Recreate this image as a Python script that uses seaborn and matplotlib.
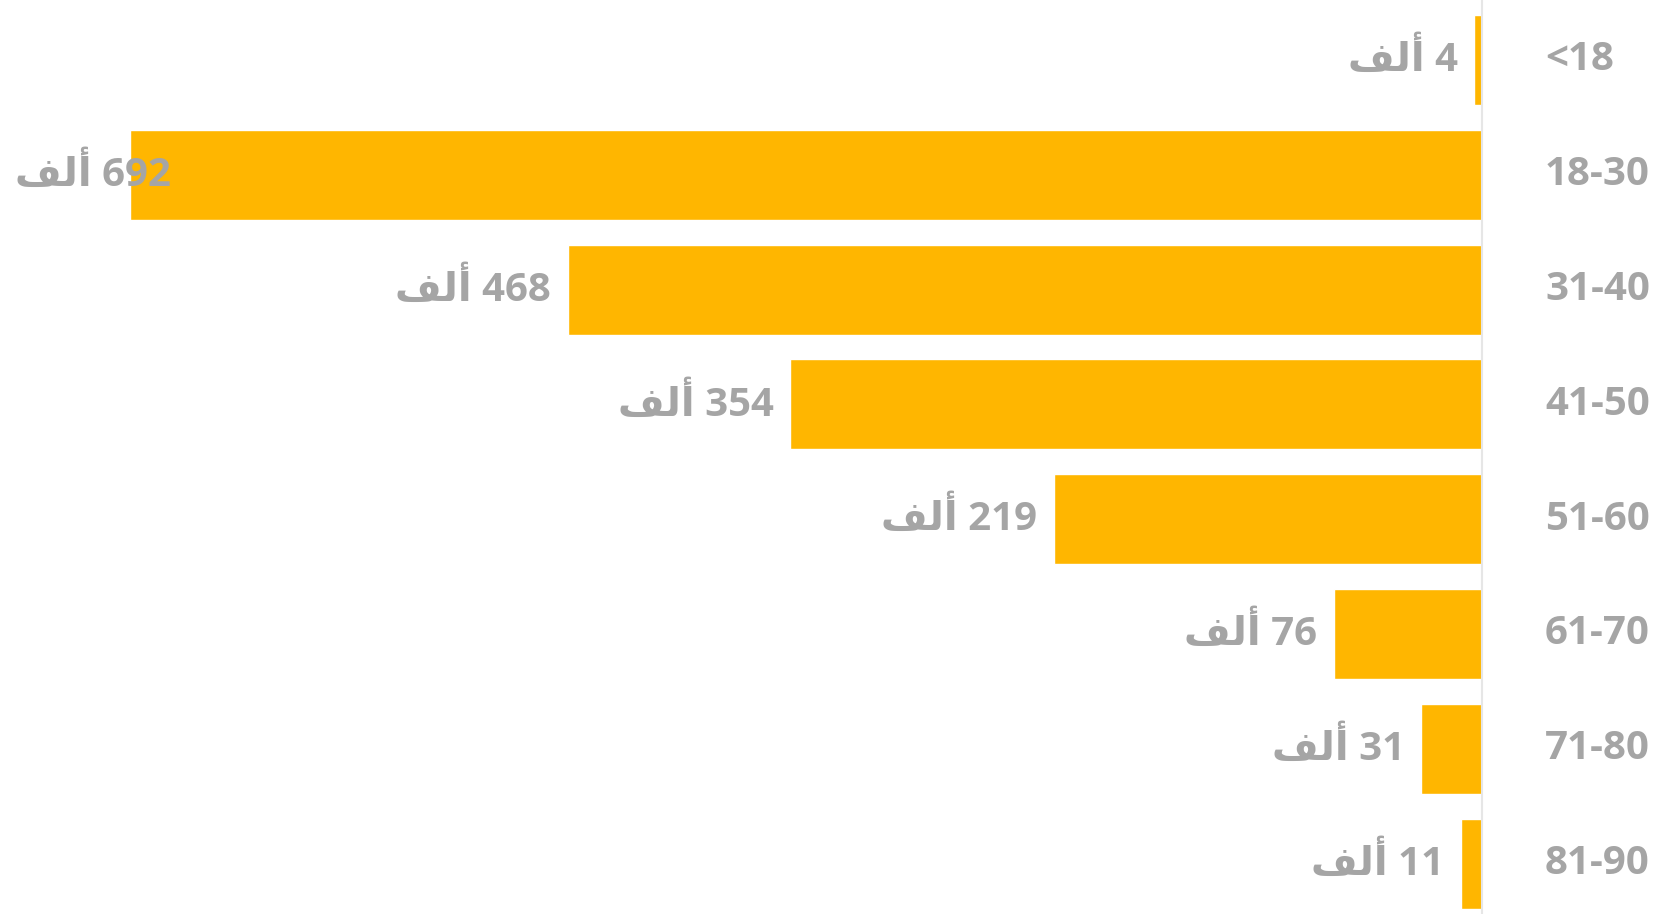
import matplotlib
matplotlib.use("Agg")
import matplotlib.pyplot as plt
import pandas as pd
import seaborn as sns

# Data (thousands)
age_groups = ["<18", "18-30", "31-40", "41-50", "51-60", "61-70", "71-80", "81-90"]
values = [4, 692, 468, 354, 219, 76, 31, 11]
# "ألف" in shaped presentation forms, visual (left-to-right) order
alf = "\uFED2\uFEDF\uFE83"

df = pd.DataFrame({"age": age_groups, "value": values})

sns.set_theme(style="white")
plt.rcParams["font.family"] = ["Open Sans", "DejaVu Sans"]

bar_color = "#FFB600"
text_color = "#A5A5A5"

W, H = 1680, 914
fig = plt.figure(figsize=(W / 100, H / 100), dpi=100)
ax_w = 1482
ax = fig.add_axes([0, 0, ax_w / W, 1])

sns.barplot(data=df, x="value", y="age", orient="h", color=bar_color,
            width=0.784, saturation=1, ax=ax)

# 692 bar reaches pixel 130; bar centres at 60 + 114.8*i
xmax = 692 * ax_w / (ax_w - 130)
ax.set_xlim(xmax, 0)
step = 114.8
ax.set_ylim((H - 60) / step, -60 / step)

for s in ["top", "bottom", "left"]:
    ax.spines[s].set_visible(False)
ax.spines["right"].set_color("#E6E6E6")
ax.spines["right"].set_linewidth(1.5)
ax.set_xticks([])
ax.set_yticks([])
ax.set_xlabel("")
ax.set_ylabel("")

fs = 29
for i, (cat, v) in enumerate(zip(age_groups, values)):
    label = f"{alf} {v}"
    if v > 0.85 * xmax:
        ax.annotate(label, xy=(15 / ax_w, i), xycoords=("axes fraction", "data"),
                    ha="left", va="center", fontsize=fs, fontweight="bold",
                    color=text_color, annotation_clip=False)
    else:
        ax.annotate(label, xy=(v, i), xytext=(-12, 0), textcoords="offset points",
                    ha="right", va="center", fontsize=fs, fontweight="bold",
                    color=text_color, annotation_clip=False)
    ax.annotate(cat, xy=(1545 / ax_w, i), xycoords=("axes fraction", "data"),
                ha="left", va="center", fontsize=fs, fontweight="bold",
                color=text_color, annotation_clip=False)

fig.savefig("out.png", dpi=100)
